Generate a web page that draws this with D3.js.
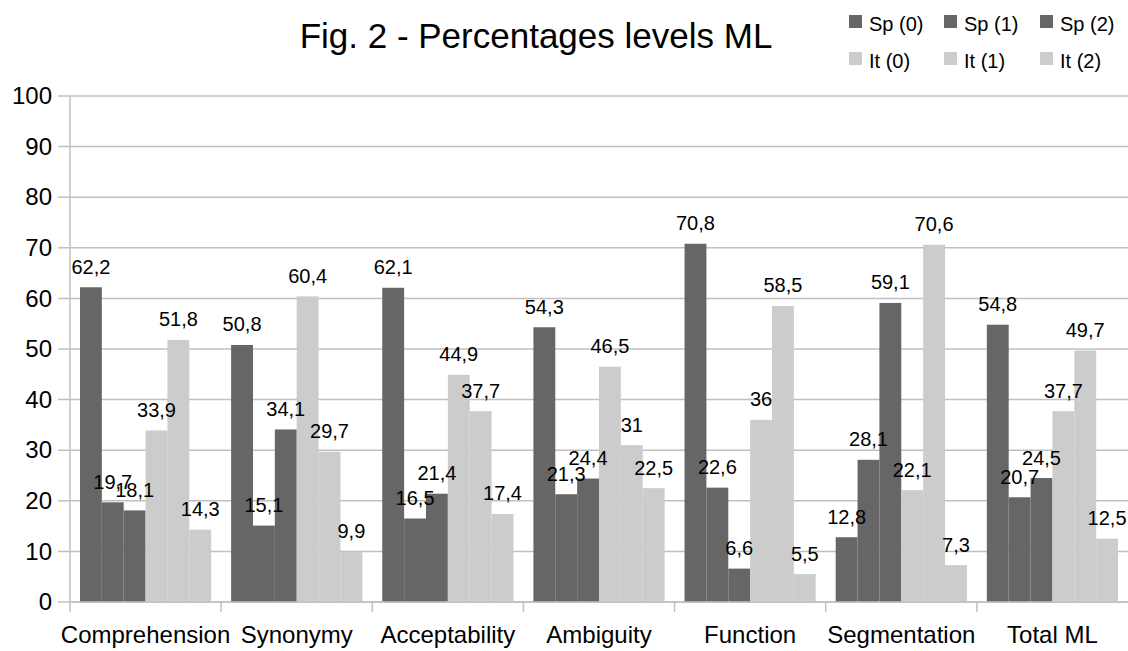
<!DOCTYPE html>
<html>
<head>
<meta charset="utf-8">
<script src="https://cdn.jsdelivr.net/npm/d3@7"></script>
<style>
  html, body { margin: 0; padding: 0; background: #fff; }
  svg { display: block; font-family: "Liberation Sans", Arial, sans-serif; }
</style>
</head>
<body>
<svg id="chart" width="1128" height="651"></svg>
<script>
const categories = ["Comprehension", "Synonymy", "Acceptability", "Ambiguity", "Function", "Segmentation", "Total ML"];
const seriesNames = ["Sp (0)", "Sp (1)", "Sp (2)", "It (0)", "It (1)", "It (2)"];
const sp0 = [62.2, 50.8, 62.1, 54.3, 70.8, 12.8, 54.8];
const sp1 = [19.7, 15.1, 16.5, 21.3, 22.6, 28.1, 20.7];
const sp2 = [18.1, 34.1, 21.4, 24.4, 6.6, 59.1, 24.5];
const it0 = [33.9, 60.4, 44.9, 46.5, 36, 22.1, 37.7];
const it1 = [51.8, 29.7, 37.7, 31, 58.5, 70.6, 49.7];
const it2 = [14.3, 9.9, 17.4, 22.5, 5.5, 7.3, 12.5];
const yTicks = [0, 10, 20, 30, 40, 50, 60, 70, 80, 90, 100];
const titleText = "Fig. 2 - Percentages levels ML";

const seriesValues = [sp0, sp1, sp2, it0, it1, it2];
const colors = ["#666666", "#666666", "#666666", "#cccccc", "#cccccc", "#cccccc"];

const svg = d3.select("#chart");
const pLeft = 70, pRight = 1128, pTop = 96, pBottom = 602;

const x0 = d3.scaleBand().domain(categories).range([pLeft, pRight]).padding(0);
const step = x0.bandwidth();
const pad = step * 0.066;
const x1 = d3.scaleBand().domain(seriesNames).range([pad, step - pad]).padding(0);
const y = d3.scaleLinear().domain([0, 100]).range([pBottom, pTop]);

const gridColor = "#c0c0c0";

// gridlines + tick marks
svg.append("g").selectAll("line").data(yTicks).join("line")
  .attr("x1", 58).attr("x2", pRight)
  .attr("y1", d => y(d)).attr("y2", d => y(d))
  .attr("stroke", gridColor).attr("stroke-width", 1.5);

// y axis
const yAxis = d3.axisLeft(y).tickValues(yTicks).tickSize(0).tickPadding(0);
const gy = svg.append("g").attr("transform", `translate(52,0)`).call(yAxis);
gy.select(".domain").remove();
gy.selectAll("text").attr("font-size", 24).attr("fill", "#000")
  .attr("font-family", "Liberation Sans, Arial, sans-serif");

// vertical axis line
svg.append("line").attr("x1", pLeft).attr("x2", pLeft).attr("y1", pTop).attr("y2", pBottom)
  .attr("stroke", gridColor).attr("stroke-width", 1.5);

// bars
const rows = [];
categories.forEach((c, i) => {
  seriesNames.forEach((s, j) => rows.push({cat: c, ser: s, j, v: seriesValues[j][i]}));
});
svg.append("g").selectAll("rect").data(rows).join("rect")
  .attr("x", d => x0(d.cat) + x1(d.ser))
  .attr("width", x1.bandwidth())
  .attr("y", d => y(d.v))
  .attr("height", d => y(0) - y(d.v))
  .attr("fill", d => colors[d.j]);

// x axis
const xAxis = d3.axisBottom(x0).tickSize(0).tickPadding(0);
const gx = svg.append("g").attr("transform", `translate(0,${pBottom})`).call(xAxis);
gx.select(".domain").remove();
gx.selectAll("text").attr("font-size", 24).attr("fill", "#000").attr("dy", null)
  .attr("y", 41)
  .attr("font-family", "Liberation Sans, Arial, sans-serif");
svg.append("line").attr("x1", pLeft).attr("x2", pRight).attr("y1", pBottom).attr("y2", pBottom)
  .attr("stroke", gridColor).attr("stroke-width", 1.5);
const bounds = categories.map(c => x0(c));
svg.append("g").selectAll("line").data(bounds).join("line")
  .attr("x1", d => d).attr("x2", d => d)
  .attr("y1", pBottom).attr("y2", pBottom + 10)
  .attr("stroke", gridColor).attr("stroke-width", 1.5);

// data labels
svg.append("g").selectAll("text").data(rows).join("text")
  .attr("x", d => x0(d.cat) + x1(d.ser) + x1.bandwidth() / 2)
  .attr("y", d => y(d.v) - 13.5)
  .attr("text-anchor", "middle")
  .attr("font-size", 20)
  .attr("fill", "#000")
  .text(d => String(d.v).replace(".", ","));

// title
svg.append("text").attr("x", 536).attr("y", 48).attr("text-anchor", "middle")
  .attr("font-size", 35).attr("fill", "#000").text(titleText);

// legend
const legX = [849, 944, 1040];
const leg = svg.append("g").selectAll("g").data(seriesNames).join("g")
  .attr("transform", (d, i) => `translate(${legX[i % 3]},${i < 3 ? 15 : 52})`);
leg.append("rect").attr("width", 13).attr("height", 13).attr("fill", (d, i) => colors[i]);
leg.append("text").attr("x", 20).attr("y", 16).attr("font-size", 20).attr("fill", "#000").text(d => d);
</script>
</body>
</html>
